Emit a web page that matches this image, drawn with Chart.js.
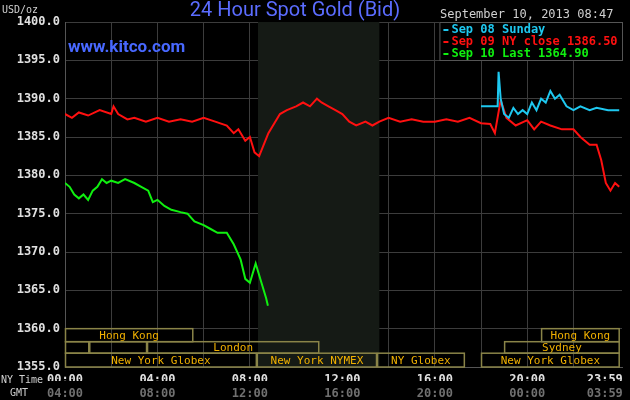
<!DOCTYPE html>
<html><head><meta charset="utf-8">
<script src="https://cdn.jsdelivr.net/npm/chart.js@4/dist/chart.umd.min.js"></script>
<style>html,body{margin:0;background:#000}#wrap{width:630px;height:400px}</style>
</head><body><div id="wrap"><canvas id="c"></canvas></div>
<script>
// hours (NY time) / prices
const sunHours = [18.0, 18.72, 18.76, 18.85, 19.0, 19.2, 19.4, 19.6, 19.8, 20.0, 20.2, 20.4, 20.6, 20.8, 21.0, 21.2, 21.4, 21.7, 22.0, 22.3, 22.7, 23.0, 23.5, 23.98];
const sunVals = [1389, 1389, 1393.5, 1390, 1388, 1387.5, 1388.8, 1388, 1388.5, 1388, 1389.5, 1388.5, 1390, 1389.5, 1391, 1390, 1390.5, 1389, 1388.5, 1389, 1388.5, 1388.8, 1388.5, 1388.5];
const monHours = [0, 0.3, 0.6, 1, 1.5, 2, 2.1, 2.3, 2.7, 3, 3.5, 4, 4.5, 5, 5.5, 6, 6.5, 7, 7.3, 7.5, 7.8, 8, 8.2, 8.4, 8.6, 8.8, 9, 9.3, 9.6, 10, 10.3, 10.6, 10.9, 11.1, 11.4, 11.7, 12, 12.3, 12.6, 13, 13.3, 13.6, 14, 14.5, 15, 15.5, 16, 16.5, 17, 17.5, 18, 18.4, 18.6, 18.85, 19.1, 19.5, 20, 20.3, 20.6, 21, 21.5, 22, 22.3, 22.7, 23, 23.2, 23.4, 23.6, 23.8, 23.98];
const monVals = [1388, 1387.5, 1388.2, 1387.8, 1388.5, 1388, 1389, 1388, 1387.3, 1387.5, 1387, 1387.5, 1387, 1387.3, 1387, 1387.5, 1387, 1386.5, 1385.5, 1386, 1384.5, 1385, 1383, 1382.5, 1384, 1385.5, 1386.5, 1388, 1388.5, 1389, 1389.5, 1389, 1390, 1389.5, 1389, 1388.5, 1388, 1387, 1386.5, 1387, 1386.5, 1387, 1387.5, 1387, 1387.3, 1387, 1387, 1387.3, 1387, 1387.5, 1386.8, 1386.7, 1385.5, 1389.8, 1387.5, 1386.5, 1387.2, 1386, 1387, 1386.5, 1386, 1386, 1385, 1384, 1384, 1382, 1379, 1378, 1379, 1378.5];
const tueHours = [0, 0.2, 0.4, 0.6, 0.8, 1, 1.2, 1.4, 1.6, 1.8, 2, 2.3, 2.6, 3, 3.3, 3.6, 3.8, 4, 4.3, 4.6, 5, 5.3, 5.6, 6, 6.3, 6.6, 7, 7.3, 7.6, 7.8, 8, 8.25, 8.5, 8.7, 8.78];
const tueVals = [1379, 1378.5, 1377.5, 1377, 1377.5, 1376.8, 1378, 1378.5, 1379.5, 1379, 1379.3, 1379, 1379.5, 1379, 1378.5, 1378, 1376.5, 1376.8, 1376, 1375.5, 1375.2, 1375, 1374, 1373.5, 1373, 1372.5, 1372.5, 1371, 1369, 1366.5, 1366, 1368.5, 1366, 1364, 1363];
const tickHours = [0, 4, 8, 12, 16, 20, 23.98];
const nyLabels = ['00:00', '04:00', '08:00', '12:00', '16:00', '20:00', '23:59    '];
const gmtLabels = ['04:00', '08:00', '12:00', '16:00', '20:00', '00:00', '03:59    '];
const legendLabels = ['Sep 08 Sunday', 'Sep 09 NY close 1386.50', 'Sep 10 Last 1364.90'];
const lineColors = ['#1ec8f0', '#ff1010', '#10f010'];
// sessions: [row, start, end, label]
const sessions = [
  [0, 0, 5.55, 'Hong Kong'], [0, 20.6, 24, 'Hong Kong'],
  [1, 0, 1.05, ''], [1, 1.05, 3.55, ''], [1, 3.55, 11.0, 'London'], [1, 19.0, 24, 'Sydney'],
  [2, 0, 8.3, 'New York Globex'], [2, 8.3, 13.5, 'New York NYMEX'], [2, 13.5, 17.3, 'NY Globex'], [2, 18.0, 24, 'New York Globex']
];
const rowEdges = [1360, 1358.3, 1356.8, 1355];
const nymexSpan = [8.35, 13.6];

const mono = '"DejaVu Sans Mono", monospace';

const decor = {
  id: 'decor',
  beforeDatasetsDraw(chart) {
    const { ctx, chartArea: a, scales: { x } } = chart;
    ctx.save();
    ctx.fillStyle = '#151a15';
    ctx.fillRect(x.getPixelForValue(nymexSpan[0]), a.top, x.getPixelForValue(nymexSpan[1]) - x.getPixelForValue(nymexSpan[0]), a.bottom - a.top);
    ctx.restore();
  },
  afterDatasetsDraw(chart) {
    const { ctx, chartArea: a, scales: { x, y } } = chart;
    ctx.save();
    // session boxes
    ctx.font = '11px ' + mono;
    ctx.textBaseline = 'middle';
    ctx.textAlign = 'center';
    sessions.forEach(([row, s, e, label]) => {
      const x0 = x.getPixelForValue(s), x1 = Math.min(x.getPixelForValue(e), a.right - 1);
      const y0 = y.getPixelForValue(rowEdges[row]), y1 = y.getPixelForValue(rowEdges[row + 1]);
      ctx.strokeStyle = '#8a8448';
      ctx.lineWidth = 1.5;
      ctx.strokeRect(x0 + 0.5, y0, x1 - x0 - 1, y1 - y0);
      ctx.fillStyle = '#f0b000';
      if (label) ctx.fillText(label, (x0 + x1) / 2, (y0 + y1) / 2 + 1);
    });
    // legend
    const lx = x.getPixelForValue(16.2);
    ctx.fillStyle = '#000';
    ctx.fillRect(lx, a.top, a.right - lx, 38);
    ctx.strokeStyle = '#555';
    ctx.lineWidth = 1;
    ctx.strokeRect(lx + 0.5, a.top + 0.5, a.right - lx, 38);
    ctx.font = 'bold 12px ' + mono;
    ctx.textAlign = 'left';
    legendLabels.forEach((t, i) => {
      const ly = a.top + 8 + i * 12;
      ctx.fillStyle = lineColors[i];
      ctx.fillRect(lx + 4, ly - 1, 5, 2);
      ctx.fillText(t, lx + 12, ly);
    });
    // header texts
    ctx.font = '20px Roboto, sans-serif';
    ctx.textAlign = 'center';
    ctx.fillStyle = '#5b6cff';
    ctx.fillText('24 Hour Spot Gold (Bid)', 295, 11);
    ctx.font = 'bold 17px Roboto, sans-serif';
    ctx.fillStyle = '#4868ff';
    ctx.textAlign = 'left';
    ctx.fillText('www.kitco.com', 68, 48);
    ctx.font = '12px ' + mono;
    ctx.fillStyle = '#d0d0d0';
    ctx.fillText('September 10, 2013 08:47', 440, 15);
    ctx.font = '10px ' + mono;
    ctx.fillText('USD/oz', 2, 10);
    ctx.fillText('NY Time', 1, 380);
    ctx.fillText('GMT', 10, 393);
    ctx.restore();
  }
};

const mk = (hours, vals, color) => ({
  data: hours.map((h, i) => ({ x: h, y: vals[i] })),
  borderColor: color, borderWidth: 2, pointRadius: 0, tension: 0, fill: false
});

const noPad = (h) => (s) => { s.height = h; s.paddingLeft = 0; s.paddingRight = 0; };

new Chart(document.getElementById('c'), {
  type: 'line',
  data: { datasets: [mk(sunHours, sunVals, lineColors[0]), mk(monHours, monVals, lineColors[1]), mk(tueHours, tueVals, lineColors[2])] },
  options: {
    responsive: true, maintainAspectRatio: false, animation: false,
    layout: { padding: { top: 22, right: 8, left: 0, bottom: 0 } },
    plugins: { legend: { display: false }, tooltip: { enabled: false } },
    scales: {
      x: {
        type: 'linear', min: 0, max: 24.1,
        afterBuildTicks: (s) => { s.ticks = tickHours.map((v) => ({ value: v })); },
        afterFit: noPad(14),
        grid: { display: false }, border: { color: '#555' },
        ticks: { color: '#e0e0e0', font: { family: mono, size: 12, weight: 'bold' }, padding: -2, maxRotation: 0,
          callback: (v, i) => nyLabels[i] }
      },
      x2: {
        type: 'linear', min: 0, max: 24.1, position: 'bottom',
        afterBuildTicks: (s) => { s.ticks = tickHours.map((v) => ({ value: v })); },
        afterFit: noPad(19),
        grid: { display: false }, border: { display: false },
        ticks: { color: '#707070', font: { family: mono, size: 12, weight: 'bold' }, padding: -2, maxRotation: 0,
          callback: (v, i) => gmtLabels[i] }
      },
      xg: {
        type: 'linear', min: 0, max: 24.1, display: true, position: 'top',
        afterBuildTicks: (s) => { const t = []; for (let h = 2; h < 24; h += 2) t.push({ value: h }); s.ticks = t; },
        afterFit: noPad(0),
        grid: { color: '#3c3c3c', drawTicks: false }, border: { display: false },
        ticks: { display: false }
      },
      y: {
        min: 1355, max: 1400,
        afterFit: (s) => { s.width = 65; },
        grid: { color: '#3c3c3c', drawTicks: false }, border: { color: '#555' },
        ticks: { stepSize: 5, color: '#e0e0e0', font: { family: mono, size: 12, weight: 'bold' }, padding: 5,
          callback: (v) => Number(v).toFixed(1) }
      }
    }
  },
  plugins: [decor]
});
</script></body></html>
